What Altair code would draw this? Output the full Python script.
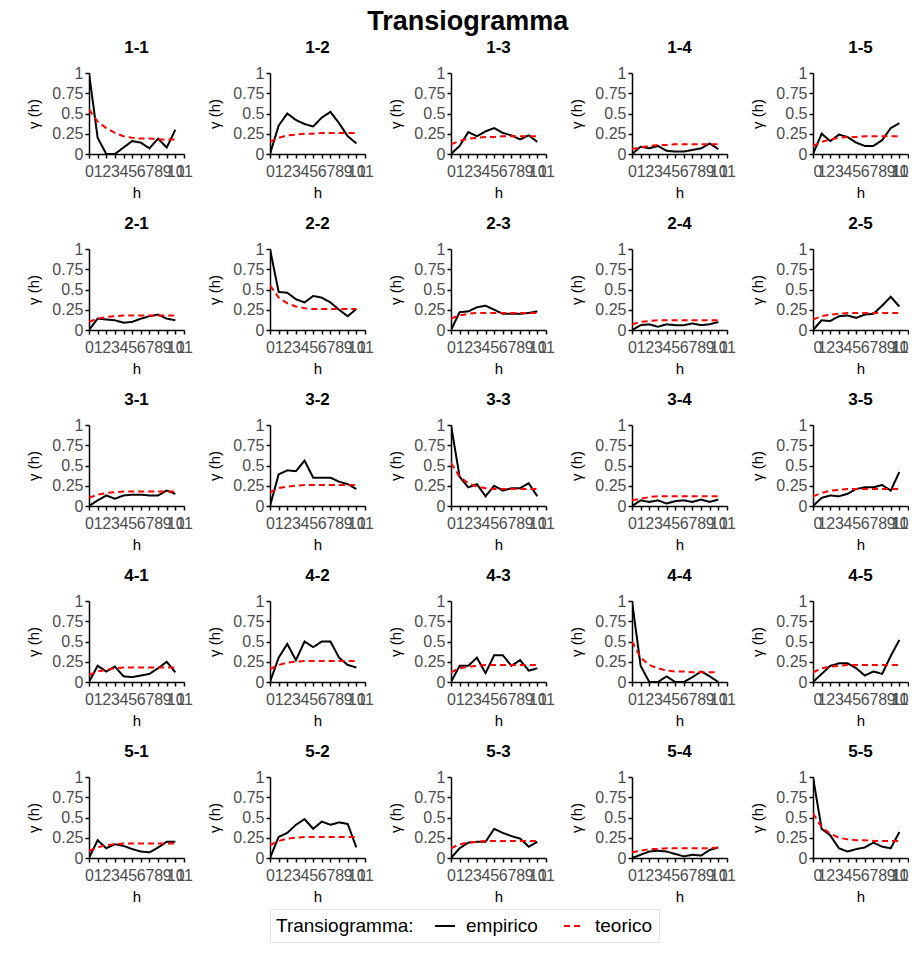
import altair as alt
import pandas as pd

h = list(range(11))
x_ticks = list(range(12))
y_ticks = [0, 0.25, 0.5, 0.75, 1]
series_names = ["empirico", "teorico"]
series_colors = ["black", "red"]
series_dashes = [[1, 0], [6, 4]]

# empirical (emp) and theoretical (teo) transiograms, h = 0..10
emp_1_1 = [1.00, 0.20, 0.00, 0.00, 0.08, 0.16, 0.14, 0.07, 0.19, 0.08, 0.30]
teo_1_1 = [0.55, 0.40, 0.32, 0.26, 0.22, 0.20, 0.19, 0.19, 0.18, 0.18, 0.18]
emp_1_2 = [0.00, 0.35, 0.50, 0.42, 0.37, 0.34, 0.45, 0.52, 0.38, 0.22, 0.13]
teo_1_2 = [0.15, 0.20, 0.23, 0.24, 0.25, 0.25, 0.26, 0.26, 0.26, 0.26, 0.26]
emp_1_3 = [0.00, 0.10, 0.27, 0.22, 0.28, 0.32, 0.26, 0.23, 0.18, 0.23, 0.15]
teo_1_3 = [0.12, 0.16, 0.19, 0.20, 0.21, 0.21, 0.22, 0.22, 0.22, 0.22, 0.22]
emp_1_4 = [0.00, 0.09, 0.07, 0.10, 0.04, 0.03, 0.03, 0.05, 0.07, 0.13, 0.06]
teo_1_4 = [0.06, 0.08, 0.10, 0.11, 0.11, 0.12, 0.12, 0.12, 0.12, 0.12, 0.12]
emp_1_5 = [0.00, 0.25, 0.16, 0.24, 0.21, 0.14, 0.10, 0.10, 0.17, 0.32, 0.38]
teo_1_5 = [0.10, 0.15, 0.18, 0.20, 0.21, 0.21, 0.22, 0.22, 0.22, 0.22, 0.22]

emp_2_1 = [0.00, 0.14, 0.13, 0.12, 0.09, 0.10, 0.14, 0.17, 0.19, 0.14, 0.12]
teo_2_1 = [0.10, 0.14, 0.16, 0.17, 0.18, 0.18, 0.18, 0.18, 0.18, 0.18, 0.18]
emp_2_2 = [1.00, 0.47, 0.46, 0.38, 0.34, 0.42, 0.40, 0.34, 0.25, 0.17, 0.26]
teo_2_2 = [0.55, 0.40, 0.33, 0.29, 0.27, 0.26, 0.26, 0.26, 0.26, 0.26, 0.26]
emp_2_3 = [0.00, 0.22, 0.23, 0.28, 0.30, 0.25, 0.20, 0.20, 0.20, 0.21, 0.23]
teo_2_3 = [0.14, 0.18, 0.20, 0.21, 0.21, 0.21, 0.21, 0.21, 0.21, 0.21, 0.21]
emp_2_4 = [0.00, 0.06, 0.07, 0.04, 0.07, 0.06, 0.06, 0.08, 0.06, 0.07, 0.10]
teo_2_4 = [0.07, 0.10, 0.11, 0.12, 0.12, 0.12, 0.12, 0.12, 0.12, 0.12, 0.12]
emp_2_5 = [0.00, 0.12, 0.11, 0.17, 0.18, 0.15, 0.19, 0.20, 0.30, 0.41, 0.29]
teo_2_5 = [0.13, 0.17, 0.19, 0.20, 0.21, 0.21, 0.21, 0.21, 0.21, 0.21, 0.21]

emp_3_1 = [0.00, 0.07, 0.13, 0.09, 0.13, 0.14, 0.14, 0.13, 0.13, 0.19, 0.15]
teo_3_1 = [0.10, 0.14, 0.16, 0.17, 0.18, 0.18, 0.18, 0.18, 0.18, 0.18, 0.18]
emp_3_2 = [0.00, 0.39, 0.44, 0.43, 0.56, 0.35, 0.35, 0.35, 0.30, 0.27, 0.21]
teo_3_2 = [0.17, 0.22, 0.24, 0.25, 0.26, 0.26, 0.26, 0.26, 0.26, 0.26, 0.26]
emp_3_3 = [1.00, 0.36, 0.23, 0.27, 0.12, 0.25, 0.19, 0.22, 0.22, 0.28, 0.12]
teo_3_3 = [0.53, 0.36, 0.28, 0.24, 0.22, 0.21, 0.21, 0.21, 0.21, 0.21, 0.21]
emp_3_4 = [0.00, 0.07, 0.05, 0.07, 0.03, 0.06, 0.07, 0.05, 0.08, 0.05, 0.08]
teo_3_4 = [0.07, 0.09, 0.11, 0.12, 0.12, 0.12, 0.12, 0.12, 0.12, 0.12, 0.12]
emp_3_5 = [0.00, 0.10, 0.13, 0.12, 0.15, 0.21, 0.23, 0.23, 0.26, 0.19, 0.42]
teo_3_5 = [0.12, 0.16, 0.19, 0.20, 0.21, 0.21, 0.21, 0.21, 0.21, 0.21, 0.21]

emp_4_1 = [0.00, 0.20, 0.13, 0.19, 0.07, 0.06, 0.08, 0.10, 0.17, 0.25, 0.12]
teo_4_1 = [0.09, 0.13, 0.15, 0.17, 0.18, 0.18, 0.18, 0.18, 0.18, 0.18, 0.18]
emp_4_2 = [0.00, 0.30, 0.47, 0.27, 0.50, 0.43, 0.50, 0.50, 0.30, 0.21, 0.18]
teo_4_2 = [0.16, 0.21, 0.24, 0.25, 0.26, 0.26, 0.26, 0.26, 0.26, 0.26, 0.26]
emp_4_3 = [0.00, 0.20, 0.20, 0.30, 0.11, 0.33, 0.33, 0.20, 0.27, 0.14, 0.17]
teo_4_3 = [0.12, 0.17, 0.19, 0.20, 0.21, 0.21, 0.21, 0.21, 0.21, 0.21, 0.21]
emp_4_4 = [1.00, 0.20, 0.00, 0.00, 0.07, 0.00, 0.00, 0.06, 0.13, 0.07, 0.00]
teo_4_4 = [0.50, 0.30, 0.21, 0.17, 0.14, 0.13, 0.13, 0.12, 0.12, 0.12, 0.12]
emp_4_5 = [0.00, 0.10, 0.20, 0.23, 0.23, 0.17, 0.08, 0.13, 0.10, 0.32, 0.52]
teo_4_5 = [0.12, 0.17, 0.19, 0.20, 0.21, 0.21, 0.21, 0.21, 0.21, 0.21, 0.21]

emp_5_1 = [0.00, 0.22, 0.12, 0.17, 0.15, 0.11, 0.08, 0.07, 0.13, 0.20, 0.20]
teo_5_1 = [0.09, 0.13, 0.16, 0.17, 0.18, 0.18, 0.18, 0.18, 0.18, 0.18, 0.18]
emp_5_2 = [0.00, 0.26, 0.31, 0.41, 0.48, 0.36, 0.45, 0.41, 0.44, 0.42, 0.13]
teo_5_2 = [0.16, 0.21, 0.24, 0.25, 0.26, 0.26, 0.26, 0.26, 0.26, 0.26, 0.26]
emp_5_3 = [0.00, 0.12, 0.19, 0.20, 0.20, 0.36, 0.31, 0.27, 0.24, 0.14, 0.20]
teo_5_3 = [0.12, 0.17, 0.19, 0.20, 0.21, 0.21, 0.21, 0.21, 0.21, 0.21, 0.21]
emp_5_4 = [0.00, 0.04, 0.08, 0.09, 0.08, 0.05, 0.02, 0.04, 0.03, 0.10, 0.13]
teo_5_4 = [0.07, 0.09, 0.11, 0.11, 0.12, 0.12, 0.12, 0.12, 0.12, 0.12, 0.13]
emp_5_5 = [1.00, 0.36, 0.28, 0.12, 0.08, 0.11, 0.13, 0.19, 0.14, 0.12, 0.32]
teo_5_5 = [0.55, 0.38, 0.30, 0.25, 0.23, 0.22, 0.22, 0.21, 0.21, 0.21, 0.21]

panels = [
    ("1-1", emp_1_1, teo_1_1), ("1-2", emp_1_2, teo_1_2), ("1-3", emp_1_3, teo_1_3),
    ("1-4", emp_1_4, teo_1_4), ("1-5", emp_1_5, teo_1_5),
    ("2-1", emp_2_1, teo_2_1), ("2-2", emp_2_2, teo_2_2), ("2-3", emp_2_3, teo_2_3),
    ("2-4", emp_2_4, teo_2_4), ("2-5", emp_2_5, teo_2_5),
    ("3-1", emp_3_1, teo_3_1), ("3-2", emp_3_2, teo_3_2), ("3-3", emp_3_3, teo_3_3),
    ("3-4", emp_3_4, teo_3_4), ("3-5", emp_3_5, teo_3_5),
    ("4-1", emp_4_1, teo_4_1), ("4-2", emp_4_2, teo_4_2), ("4-3", emp_4_3, teo_4_3),
    ("4-4", emp_4_4, teo_4_4), ("4-5", emp_4_5, teo_4_5),
    ("5-1", emp_5_1, teo_5_1), ("5-2", emp_5_2, teo_5_2), ("5-3", emp_5_3, teo_5_3),
    ("5-4", emp_5_4, teo_5_4), ("5-5", emp_5_5, teo_5_5),
]

FONT = "Liberation Sans"

color = alt.Color(
    "serie:N",
    scale=alt.Scale(domain=series_names, range=series_colors),
    legend=alt.Legend(
        title="Transiogramma:", orient="none", legendX=181, legendY=836,
        direction="horizontal",
        titleOrient="left", titleFontSize=19, titleFontWeight="normal",
        labelFontSize=19, titleFont=FONT, labelFont=FONT,
        symbolType="stroke", symbolSize=400, symbolStrokeWidth=2,
        strokeColor="#e3e3e3", padding=6, columnPadding=22, labelOffset=10,
        titlePadding=20, labelColor="black", titleColor="black",
        titleBaseline="middle", titleAnchor="middle",
    ),
)
dash = alt.StrokeDash(
    "tratto:N",
    scale=alt.Scale(domain=series_names, range=series_dashes),
    legend=None,
)


def make_panel(name, emp, teo, last_col):
    labels = ["empirico"] * len(h) + ["teorico"] * len(h)
    df = pd.DataFrame({
        "h": h + h,
        "gamma": emp + teo,
        "serie": labels,
        "tratto": labels,
    })
    return alt.Chart(df).mark_line(strokeWidth=2, clip=True).encode(
        x=alt.X("h:Q", scale=alt.Scale(domain=[0, 11], nice=False, zero=False),
                axis=alt.Axis(values=x_ticks, title="h", labelOverlap=False,
                              labelFlush=last_col, format="d", labelPadding=5,
                              titlePadding=6)),
        y=alt.Y("gamma:Q", scale=alt.Scale(domain=[0, 1], nice=False),
                axis=alt.Axis(values=y_ticks, title="γ (h)", titlePadding=10,
                              labelExpr="datum.value + ''")),
        color=color,
        strokeDash=dash,
        detail="serie:N",
    ).properties(
        width=95, height=81,
        title=alt.TitleParams(name, fontSize=17, fontWeight="bold", font=FONT,
                              offset=8, color="black"),
    )


charts = [make_panel(n, e, t, i % 5 == 4) for i, (n, e, t) in enumerate(panels)]

chart = alt.concat(
    *charts, columns=5, spacing={"row": 95, "column": 86}, bounds="flush"
).properties(
    title=alt.TitleParams("Transiogramma", fontSize=27, fontWeight="bold",
                          font=FONT, anchor="middle", offset=3, color="black"),
    padding={"left": 18, "top": 0, "right": 0, "bottom": 0},
).configure_view(stroke=None).configure_axis(
    grid=False, domainColor="black", domainWidth=1.5, tickColor="black",
    tickWidth=1.5, tickSize=4, labelColor="#4d4d4d", labelFontSize=16,
    labelFont=FONT, titleFont=FONT, titleFontSize=15, titleFontWeight="normal",
    titleColor="black", labelPadding=2,
)

chart.save("out.html", embed_options={"renderer": "svg", "actions": False})
